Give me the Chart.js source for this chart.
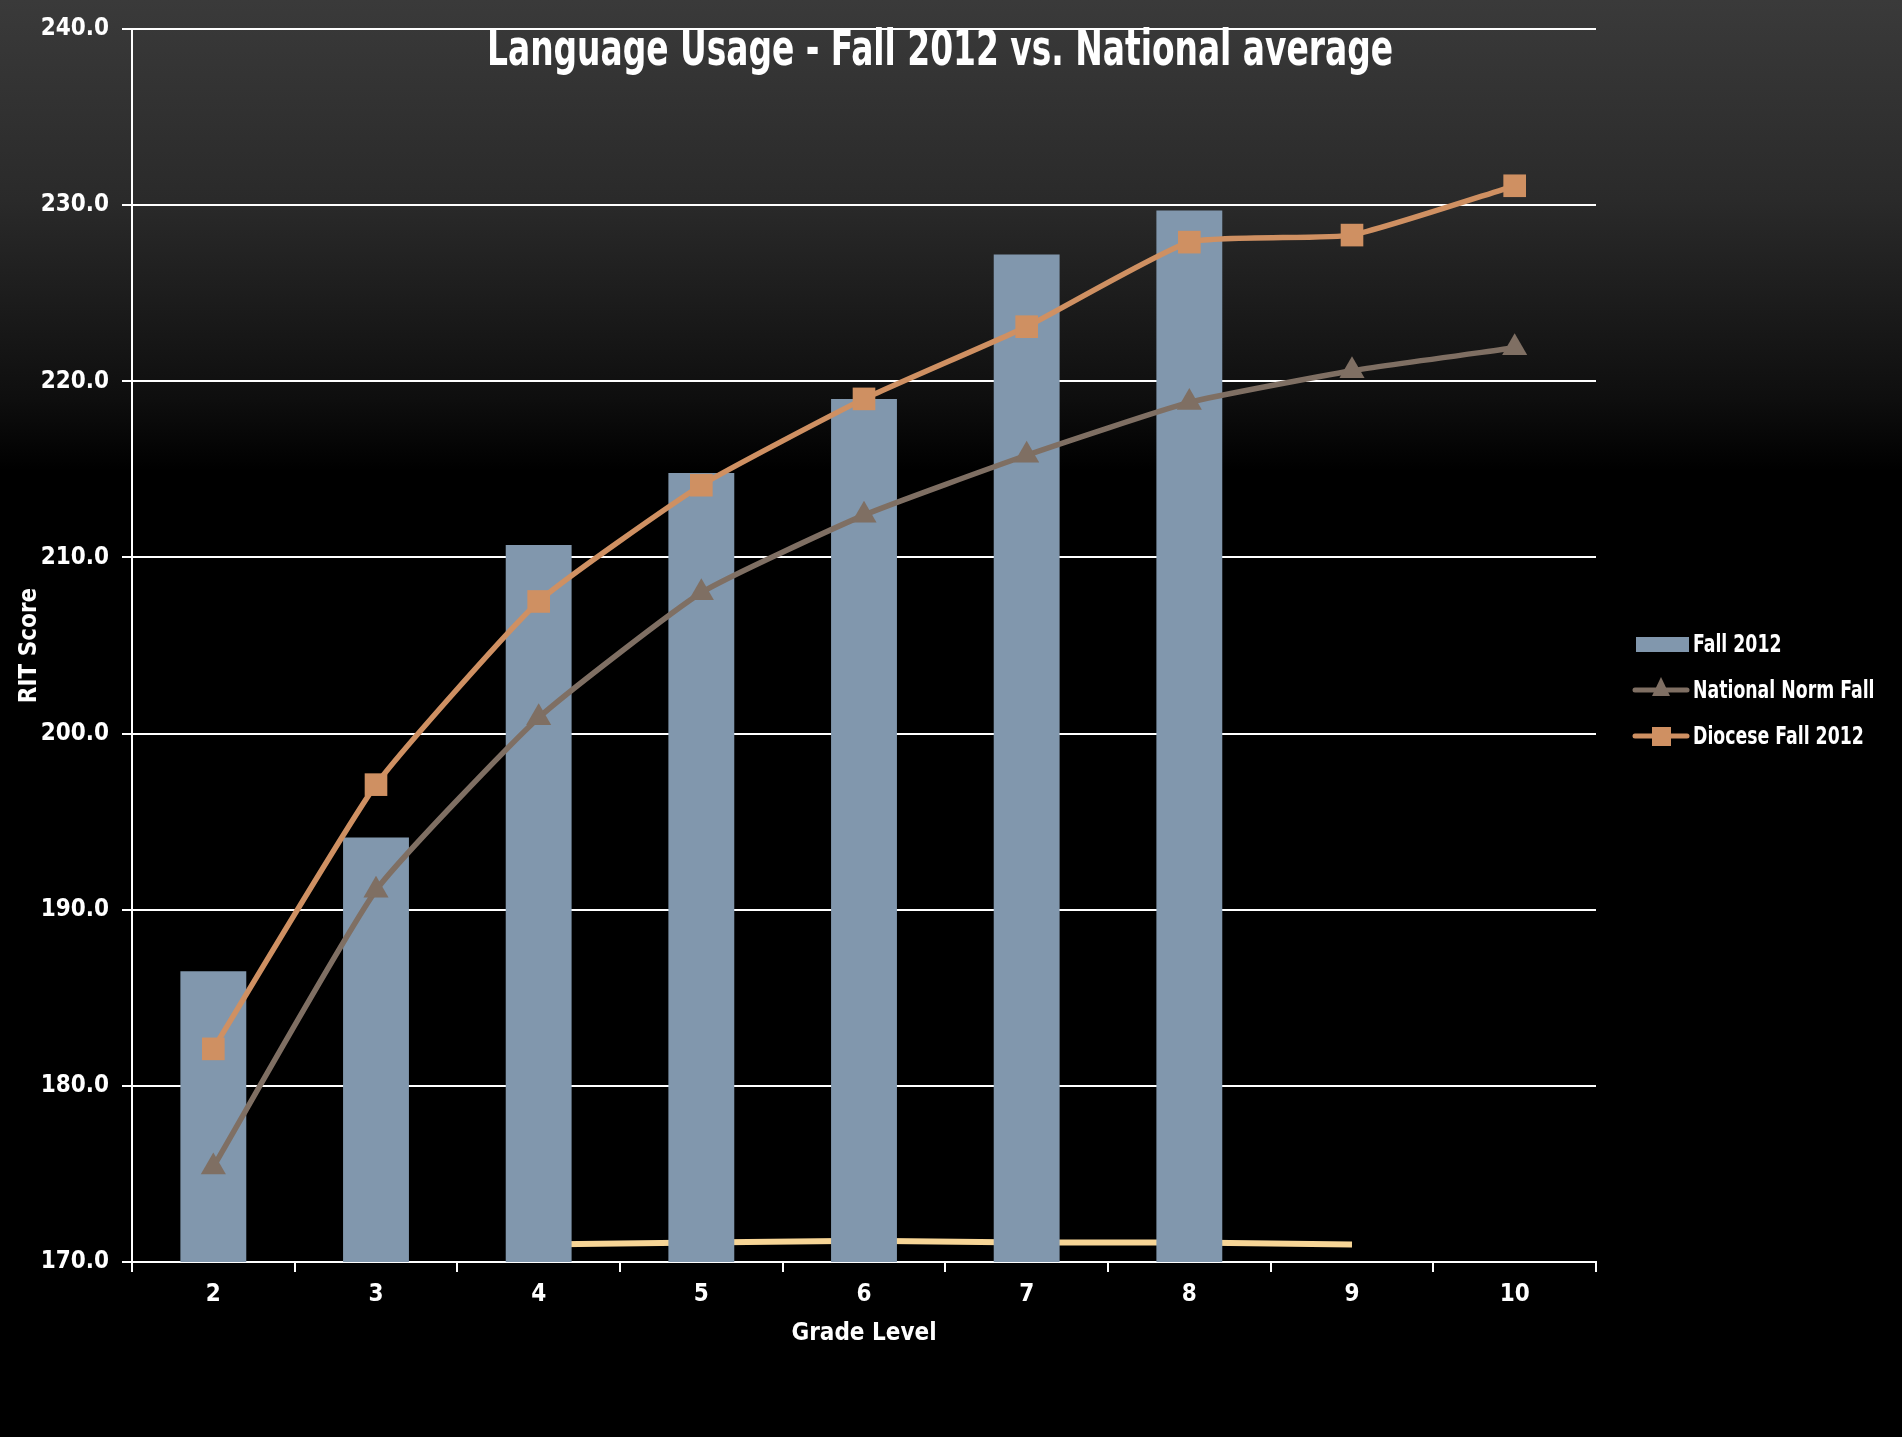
<!DOCTYPE html>
<html lang="en">
<head>
    <meta charset="UTF-8">
    <title>Language Usage - Fall 2012 vs. National average</title>
    <script src="https://cdn.jsdelivr.net/npm/chart.js"></script>
    <style>
        html, body {
            margin: 0;
            padding: 0;
        }
        body {
            width: 1902px;
            height: 1437px;
            background: linear-gradient(to bottom, #3a3a3a 0px, #2a2a2a 200px, #0e0e0e 400px, #000 470px, #000 100%);
            overflow: hidden;
        }
        #chart {
            display: block;
        }
    </style>
</head>
<body>
    <canvas id="chart" width="1902" height="1437"></canvas>

    <script>
        // grade levels on the x axis
        const grades = ["2", "3", "4", "5", "6", "7", "8", "9", "10"];

        // RIT scores
        const fall2012 = [186.5, 194.1, 210.7, 214.8, 219.0, 227.2, 229.7, null, null];
        const nationalNormFall = [175.4, 191.1, 200.9, 208.0, 212.4, 215.8, 218.8, 220.6, 221.9];
        const dioceseFall2012 = [182.1, 197.1, 207.5, 214.1, 219.0, 223.1, 227.9, 228.3, 231.1];
        // faint yellow trace sitting just above the x axis
        const baseTrace = [null, null, 171.0, 171.1, 171.2, 171.1, 171.1, 171.0, null];

        const yMin = 170, yMax = 240, yStep = 10;

        const chartTitle = "Language Usage - Fall 2012 vs. National average";
        const xTitle = "Grade Level";
        const yTitle = "RIT Score";

        const FONT = "'Liberation Sans Narrow', 'DejaVu Sans Condensed', 'Arial Narrow', sans-serif";
        const BAR_COLOR = "#8197ad";
        const NORM_COLOR = "#7f6f63";
        const DIOCESE_COLOR = "#cf9062";
        const TRACE_COLOR = "#f7d596";

        Chart.defaults.font.family = FONT;
        Chart.defaults.font.weight = "bold";
        Chart.defaults.color = "#fff";

        // title drawn over the top of the plot, like the original
        const overlayTitle = {
            id: "overlayTitle",
            afterDraw(chart) {
                const ctx = chart.ctx;
                ctx.save();
                ctx.fillStyle = "#fff";
                ctx.font = "bold 50px " + FONT;
                ctx.textAlign = "center";
                ctx.textBaseline = "alphabetic";
                ctx.fillText(chartTitle, 940, 65, 906);
                ctx.restore();
            }
        };

        // legend on the right: box for bars, line + marker for lines
        const sideLegend = {
            id: "sideLegend",
            afterDraw(chart) {
                const ctx = chart.ctx;
                const items = chart.data.datasets.filter(d => d.label);
                const x0 = 1633, textX = 1693, squeeze = 0.77;
                let y = 644;
                ctx.save();
                ctx.font = "bold 25px " + FONT;
                ctx.textBaseline = "middle";
                ctx.textAlign = "left";
                items.forEach(d => {
                    if (d.type === "bar") {
                        ctx.fillStyle = d.backgroundColor;
                        ctx.fillRect(x0 + 3, y - 7, 53, 15);
                    } else {
                        ctx.strokeStyle = d.borderColor;
                        ctx.lineWidth = 5;
                        ctx.lineCap = "round";
                        ctx.beginPath();
                        ctx.moveTo(x0 + 2, y);
                        ctx.lineTo(x0 + 54, y);
                        ctx.stroke();
                        ctx.fillStyle = d.borderColor;
                        const cx = x0 + 28;
                        if (d.pointStyle === "triangle") {
                            ctx.beginPath();
                            ctx.moveTo(cx, y - 13);
                            ctx.lineTo(cx + 9, y + 6);
                            ctx.lineTo(cx - 9, y + 6);
                            ctx.closePath();
                            ctx.fill();
                        } else {
                            ctx.fillRect(cx - 9, y - 9, 19, 19);
                        }
                    }
                    ctx.save();
                    ctx.translate(textX, y + 1);
                    ctx.scale(squeeze, 1);
                    ctx.fillStyle = "#fff";
                    ctx.fillText(d.label, 0, 0);
                    ctx.restore();
                    y += 46;
                });
                ctx.restore();
            }
        };

        const ctx = document.getElementById("chart").getContext("2d");

        new Chart(ctx, {
            data: {
                labels: grades,
                datasets: [
                    {
                        type: "bar",
                        label: "Fall 2012",
                        data: fall2012,
                        backgroundColor: BAR_COLOR,
                        barPercentage: 0.405,
                        categoryPercentage: 1,
                        order: 2
                    },
                    {
                        type: "line",
                        label: "National Norm Fall",
                        data: nationalNormFall,
                        borderColor: NORM_COLOR,
                        backgroundColor: NORM_COLOR,
                        borderWidth: 5.5,
                        tension: 0.15,
                        pointStyle: "triangle",
                        pointRadius: 14.5,
                        pointBorderWidth: 0,
                        pointBackgroundColor: NORM_COLOR,
                        order: 1
                    },
                    {
                        type: "line",
                        label: "Diocese Fall 2012",
                        data: dioceseFall2012,
                        borderColor: DIOCESE_COLOR,
                        backgroundColor: DIOCESE_COLOR,
                        borderWidth: 5.5,
                        tension: 0.15,
                        pointStyle: "rect",
                        pointRadius: 16,
                        pointBorderWidth: 0,
                        pointBackgroundColor: DIOCESE_COLOR,
                        order: 0
                    },
                    {
                        type: "line",
                        label: "",
                        data: baseTrace,
                        borderColor: TRACE_COLOR,
                        borderWidth: 6,
                        pointRadius: 0,
                        order: 3
                    }
                ]
            },
            options: {
                responsive: false,
                animation: false,
                layout: {
                    padding: { top: 29, right: 306, bottom: 0, left: 0 }
                },
                plugins: {
                    legend: { display: false },
                    title: { display: false },
                    tooltip: { enabled: false }
                },
                scales: {
                    x: {
                        type: "category",
                        offset: true,
                        afterFit(scale) { scale.height = 175; },
                        grid: {
                            offset: true,
                            drawOnChartArea: false,
                            drawTicks: true,
                            tickLength: 10,
                            color: "#fff",
                            lineWidth: 2
                        },
                        border: { color: "#fff", width: 2 },
                        ticks: {
                            color: "#fff",
                            padding: 8,
                            font: { size: 24, weight: "bold" }
                        },
                        title: {
                            display: true,
                            text: xTitle,
                            color: "#fff",
                            font: { size: 24, weight: "bold" },
                            padding: { top: 0, bottom: 89 }
                        }
                    },
                    y: {
                        min: yMin,
                        max: yMax,
                        afterFit(scale) { scale.width = 132; },
                        grid: {
                            color: "#fff",
                            lineWidth: 2,
                            tickLength: 10
                        },
                        border: { color: "#fff", width: 2 },
                        ticks: {
                            stepSize: yStep,
                            color: "#fff",
                            padding: 13,
                            font: { size: 24, weight: "bold" },
                            callback: v => Number(v).toFixed(1)
                        },
                        title: {
                            display: true,
                            text: yTitle,
                            color: "#fff",
                            font: { size: 24, weight: "bold" },
                            padding: { top: 15, bottom: 0 }
                        }
                    }
                }
            },
            plugins: [overlayTitle, sideLegend]
        });
    </script>
</body>
</html>
